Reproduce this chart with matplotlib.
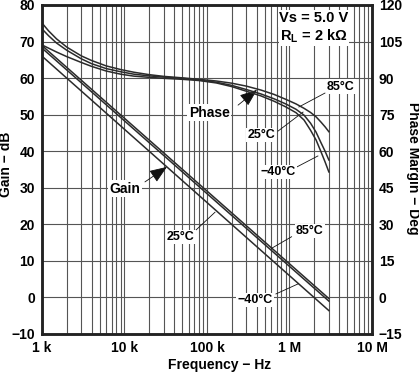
import matplotlib
matplotlib.use("Agg")
import matplotlib.pyplot as plt
from matplotlib.ticker import FixedLocator, LogLocator, NullFormatter

plt.rcParams["font.family"] = ["Liberation Sans", "DejaVu Sans"]
plt.rcParams["font.weight"] = "bold"
plt.rcParams["mathtext.fontset"] = "custom"
plt.rcParams["mathtext.rm"] = "Liberation Sans:bold"
plt.rcParams["mathtext.bf"] = "Liberation Sans:bold"

# open-loop gain (left axis, dB) - straight -20 dB/dec lines
freq_gain = [1e3, 3e6]
gain_85 = [68.9, -0.3]
gain_25 = [68.2, -1.0]
gain_m40 = [66.0, -3.6]

# phase margin (right axis, deg)
freq_phase = [1e3, 1.2e3, 1.5e3, 2e3, 3e3, 4e3, 6e3, 9e3, 13e3, 20e3, 30e3, 50e3,
              80e3, 130e3, 200e3, 300e3, 450e3, 650e3, 900e3, 1.2e6, 1.5e6, 1.8e6,
              2.1e6, 2.4e6, 2.7e6, 3e6]
phase_85 = [112.6, 109.4, 106.1, 102.7, 99.1, 97.2, 95.0, 93.5, 92.4, 91.4, 90.7, 90.1,
            89.5, 88.8, 87.9, 86.7, 85.1, 83.3, 81.3, 79.4, 77.6, 75.9,
            74.1, 72.0, 70.0, 68.0]
phase_25 = [110.2, 107.4, 104.4, 101.4, 97.9, 95.9, 93.9, 92.6, 91.6, 90.9, 90.4, 89.9,
            89.2, 88.3, 87.0, 85.3, 83.5, 81.5, 79.4, 77.2, 74.8, 71.5,
            67.8, 63.6, 60.0, 56.4]
phase_m40 = [103.6, 102.3, 100.7, 98.8, 96.4, 94.8, 92.9, 91.6, 90.8, 90.3, 89.9, 89.5,
             89.0, 88.0, 86.5, 84.6, 82.7, 80.5, 78.2, 75.8, 72.8, 68.6,
             64.6, 59.9, 55.6, 51.5]

x_ticks = [1e3, 1e4, 1e5, 1e6, 1e7]
x_labels = ["1 k", "10 k", "100 k", "1 M", "10 M"]
gain_ticks = list(range(-10, 81, 10))
phase_ticks = list(range(-15, 121, 15))

LINE = "#2b2b2b"
GRID = "#555555"
box = dict(facecolor="white", edgecolor="none", pad=1.0)

fig = plt.figure(figsize=(4.19, 3.74), dpi=100)
ax = fig.add_axes([0.1002, 0.107, 0.7876, 0.8797])
ax.set_xscale("log")
ax.set_xlim(1e3, 1e7)
ax.set_ylim(-10, 80)
ax.xaxis.set_major_locator(FixedLocator(x_ticks))
ax.set_xticklabels(x_labels)
ax.xaxis.set_minor_locator(LogLocator(base=10, subs=range(2, 10)))
ax.xaxis.set_minor_formatter(NullFormatter())
ax.set_yticks(gain_ticks)
ax.set_axisbelow(True)
ax.grid(which="both", axis="x", color=GRID, lw=0.8)
ax.grid(which="major", axis="y", color=GRID, lw=0.8)
ax.tick_params(which="both", length=0, labelsize=10, pad=5)

for g in (gain_85, gain_25, gain_m40):
    ax.plot(freq_gain, g, color=LINE, lw=1.1)

ax2 = ax.twinx()
ax2.set_ylim(-15, 120)
ax2.set_yticks(phase_ticks)
ax2.tick_params(length=0, labelsize=10, pad=5)
for p in (phase_85, phase_25, phase_m40):
    ax2.plot(freq_phase, p, color=LINE, lw=1.1)

for a in (ax, ax2):
    for s in a.spines.values():
        s.set_linewidth(1.8)
        s.set_color("#222222")

fig.text(0.015, 0.56, "Gain − dB", rotation=90, ha="center", va="center", fontsize=10)
fig.text(0.985, 0.55, "Phase Margin − Deg", rotation=270, ha="center", va="center", fontsize=10)
fig.text(0.523, 0.024, "Frequency − Hz", ha="center", va="center", fontsize=10)

ax.text(1.98e6, 76.4, "Vs = 5.0 V", ha="center", va="center", fontsize=10.5, bbox=box)
ax.text(1.98e6, 71.6, r"R$_{\mathbf{L}}$ = 2 kΩ", ha="center", va="center", fontsize=10.5, bbox=box)

arrow = dict(arrowstyle="-|>,head_length=0.9,head_width=0.35", color="#111111",
             lw=0.6, shrinkA=0, shrinkB=0, mutation_scale=12)
ax.text(1.06e5, 50.5, "Phase", ha="center", va="center", fontsize=10, bbox=box)
ax.annotate("", xy=(4.04e5, 56.8), xytext=(2.38e5, 52.6), arrowprops=arrow)
ax.text(1.01e4, 29.7, "Gain", ha="center", va="center", fontsize=10, bbox=box)
ax.annotate("", xy=(3.27e4, 35.7), xytext=(1.77e4, 31.6), arrowprops=arrow)

leader = dict(color="#111111", lw=0.6)
labels = [
    ("25°C", (4.84e4, 16.5), (7.4e4, 18.5), (1.25e5, 23.3)),
    ("85°C", (1.77e6, 18.2), (1.06e6, 16.6), (6.08e5, 13.45)),
    ("−40°C", (3.82e5, -0.7), (6.85e5, 0.95), (1.27e6, 3.7)),
    ("85°C", (4.21e6, 57.6), (2.69e6, 55.9), (1.30e6, 52.1)),
    ("25°C", (4.52e5, 44.4), (7.26e5, 45.5), (1.46e6, 50.7)),
    ("−40°C", (7.26e5, 34.3), (1.23e6, 35.7), (2.21e6, 38.7)),
]
for txt, pos, p0, p1 in labels:
    ax.plot([p0[0], p1[0]], [p0[1], p1[1]], **leader)
    ax.text(pos[0], pos[1], txt, ha="center", va="center", fontsize=9, bbox=box, zorder=4)

fig.savefig("out.png", dpi=100, facecolor="white")
